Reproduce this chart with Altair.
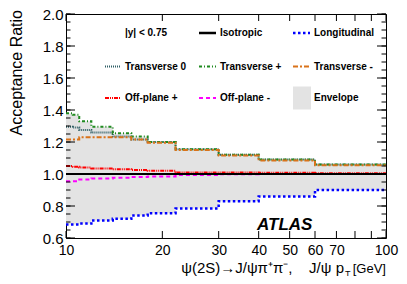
import altair as alt
import pandas as pd

# ---------------- data ----------------
pt_edges = [10, 10.5, 11, 12, 14, 16, 18, 22, 30, 40, 60, 100]

isotropic        = [1.0, 1.0, 1.0, 1.0, 1.0, 1.0, 1.0, 1.0, 1.0, 1.0, 1.0]
longitudinal     = [0.685, 0.685, 0.69, 0.71, 0.72, 0.74, 0.755, 0.785, 0.83, 0.86, 0.90]
transverse_0     = [1.295, 1.29, 1.275, 1.26, 1.235, 1.215, 1.20, 1.155, 1.12, 1.09, 1.06]
transverse_plus  = [1.38, 1.37, 1.33, 1.295, 1.255, 1.235, 1.20, 1.155, 1.12, 1.09, 1.06]
transverse_minus = [1.215, 1.215, 1.23, 1.23, 1.23, 1.215, 1.195, 1.15, 1.115, 1.085, 1.055]
offplane_plus    = [1.05, 1.045, 1.04, 1.035, 1.03, 1.025, 1.02, 1.01, 1.01, 1.008, 1.005]
offplane_minus   = [0.955, 0.955, 0.965, 0.972, 0.977, 0.982, 0.985, 0.993, 0.998, 1.0, 1.0]

x_tick_values = [10, 20, 30, 40, 50, 60, 70, 80, 90, 100]
x_label_values = [10, 20, 30, 40, 50, 60, 70, 100]
y_label_values = [0.6, 0.8, 1.0, 1.2, 1.4, 1.6, 1.8, 2.0]
y_minor_values = [round(0.6 + 0.05 * i, 2) for i in range(29)]

FONT = "Liberation Sans"
W, H = 320, 224

xs = alt.Scale(type="log", domain=[10, 100], nice=False)
ys = alt.Scale(domain=[0.6, 2.0], nice=False, zero=False)

x_axis = alt.Axis(values=x_label_values, format="d", title=None,
                  labelFontSize=14, labelPadding=5, labelFont=FONT,
                  labelColor="black", ticks=False, domain=False, grid=False,
                  labelFlush=False, labelOverlap=False)
y_axis = alt.Axis(values=y_label_values, format=".1f", title=None,
                  labelFontSize=15, labelPadding=3, labelFont=FONT,
                  labelColor="black", ticks=False, domain=False, grid=False,
                  labelFlush=False, labelOverlap=False)


def X(field):
    return alt.X(field, type="quantitative", scale=xs, axis=x_axis)


def Y(field):
    return alt.Y(field, type="quantitative", scale=ys, axis=y_axis)


def step_df(vals):
    return pd.DataFrame({"pt": pt_edges, "ratio": vals + [vals[-1]]})


all_series = [longitudinal, transverse_0, transverse_plus, transverse_minus,
              offplane_plus, offplane_minus, isotropic]
env_low = [min(s[i] for s in all_series) for i in range(len(isotropic))]
env_high = [max(s[i] for s in all_series) for i in range(len(isotropic))]
env_df = pd.DataFrame({"pt": pt_edges,
                       "ratio": env_low + [env_low[-1]],
                       "high": env_high + [env_high[-1]]})

envelope = alt.Chart(env_df).mark_area(interpolate="step-after", color="#e3e3e3").encode(
    x=X("pt"), y=Y("ratio"), y2="high:Q",
)

styles = [
    (transverse_0, "#2f5f66", [1, 1], 2),
    (transverse_plus, "#1f8a1f", [3, 2, 1, 2], 2),
    (transverse_minus, "#d9731a", [5, 2, 2, 2], 2),
    (offplane_plus, "#ff0000", [4, 1, 1, 1, 1, 1], 2),
    (offplane_minus, "#ff00ff", [4, 3], 2),
    (longitudinal, "#0000ff", [2.5, 2.5], 2.5),
    (isotropic, "#000000", [1, 0], 2),
]

lines = []
for vals, col, dash, sw in styles:
    lines.append(
        alt.Chart(step_df(vals)).mark_line(
            interpolate="step-after", color=col, strokeDash=dash, strokeWidth=sw
        ).encode(x=X("pt"), y=Y("ratio"))
    )

# ------------- inward ticks (ROOT style) -------------
xt = pd.DataFrame({"pt": x_tick_values})
ymaj = pd.DataFrame({"ratio": y_label_values})
ymin = pd.DataFrame({"ratio": y_minor_values})
tick_layers = [
    alt.Chart(xt).mark_rule(color="black").encode(
        x=X("pt"), y=alt.value(H), y2=alt.value(H - 7)),
    alt.Chart(xt).mark_rule(color="black").encode(
        x=X("pt"), y=alt.value(0), y2=alt.value(7)),
    alt.Chart(ymaj).mark_rule(color="black").encode(
        y=Y("ratio"), x=alt.value(0), x2=alt.value(9)),
    alt.Chart(ymaj).mark_rule(color="black").encode(
        y=Y("ratio"), x=alt.value(W), x2=alt.value(W - 9)),
    alt.Chart(ymin).mark_rule(color="black").encode(
        y=Y("ratio"), x=alt.value(0), x2=alt.value(4.5)),
    alt.Chart(ymin).mark_rule(color="black").encode(
        y=Y("ratio"), x=alt.value(W), x2=alt.value(W - 4.5)),
]

# ------------- legend (3 x 3 grid) -------------
one = pd.DataFrame({"a": [0]})
col_sym = [(39, 54), (133, 150), (227, 244)]
col_txt = [59, 154, 248]
row_y = [19, 52.5, 84]

legend_entries = [
    (0, 0, "|y| < 0.75", None, None, None),
    (0, 1, "Isotropic", "#000000", [1, 0], 2.5),
    (0, 2, "Longitudinal", "#0000ff", [2.5, 2.5], 2.5),
    (1, 0, "Transverse 0", "#2f5f66", [1, 1], 2),
    (1, 1, "Transverse +", "#1f8a1f", [3, 2, 1, 2], 2),
    (1, 2, "Transverse -", "#d9731a", [5, 2, 2, 2], 2),
    (2, 0, "Off-plane +", "#ff0000", [4, 1, 1, 1, 1, 1], 2),
    (2, 1, "Off-plane -", "#ff00ff", [4, 3], 2),
    (2, 2, "Envelope", "box", None, None),
]

legend_layers = []
for r, c, label, col, dash, sw in legend_entries:
    yy = row_y[r]
    if col == "box":
        legend_layers.append(
            alt.Chart(one).mark_rect(color="#e3e3e3").encode(
                x=alt.value(col_sym[c][0]), x2=alt.value(col_sym[c][1] + 1),
                y=alt.value(yy - 11.5), y2=alt.value(yy + 11.5)))
    elif col is not None:
        legend_layers.append(
            alt.Chart(one).mark_rule(color=col, strokeDash=dash, strokeWidth=sw).encode(
                x=alt.value(col_sym[c][0]), x2=alt.value(col_sym[c][1]), y=alt.value(yy)))
    legend_layers.append(
        alt.Chart(one).mark_text(text=label, align="left", baseline="middle",
                                 font=FONT, fontSize=10, fontWeight="bold",
                                 color="black").encode(
            x=alt.value(col_txt[c]), y=alt.value(yy)))

# ------------- titles and label -------------
NB = "\u00a0"
texts = [
    alt.Chart(one).mark_text(text="ATLAS", align="left", baseline="alphabetic",
                             font=FONT, fontSize=17, fontWeight="bold",
                             fontStyle="italic", color="black").encode(
        x=alt.value(191), y=alt.value(216)),
    alt.Chart(one).mark_text(text="Acceptance Ratio", align="right", baseline="middle",
                             angle=270, font=FONT, fontSize=16, color="black").encode(
        x=alt.value(-49), y=alt.value(-4)),
    alt.Chart(one).mark_text(text="ψ(2S)→J/ψπ⁺π⁻," + NB * 4 + "J/ψ" + NB + "p",
                             align="right", baseline="alphabetic", font=FONT,
                             fontSize=15, color="black").encode(
        x=alt.value(278), y=alt.value(259)),
    alt.Chart(one).mark_text(text="T", align="left", baseline="alphabetic",
                             font=FONT, fontSize=9, color="black").encode(
        x=alt.value(279), y=alt.value(263)),
    alt.Chart(one).mark_text(text="[GeV]", align="right", baseline="alphabetic",
                             font=FONT, fontSize=13, color="black").encode(
        x=alt.value(W), y=alt.value(259)),
]

chart = alt.layer(envelope, *lines, *tick_layers, *legend_layers, *texts).properties(
    width=W, height=H,
    autosize=alt.AutoSizeParams(type="none"),
    padding={"left": 58, "top": 6, "right": 13, "bottom": 38},
    background="white",
).configure_view(stroke="black", strokeWidth=1)

chart.save("out.html", embed_options={"renderer": "svg", "actions": False})
